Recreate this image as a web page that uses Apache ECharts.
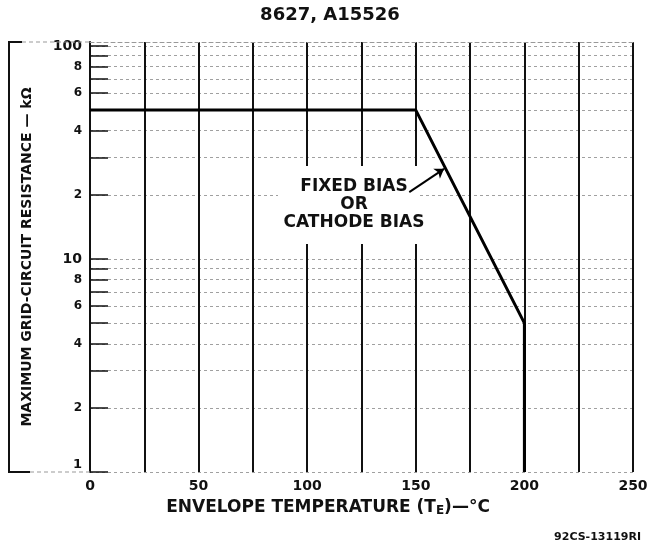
<!DOCTYPE html>
<html>
<head>
<meta charset="utf-8">
<script src="https://cdn.jsdelivr.net/npm/echarts@6/dist/echarts.min.js"></script>
<style>
html, body { margin: 0; background: #fff; }
#chart { width: 654px; height: 549px; }
</style>
</head>
<body>
<div id="chart"></div>
<script>
// rating curve: envelope temperature (degC) -> max grid-circuit resistance (kOhm)
const temps = [0, 150, 200, 200];
const resistance = [50, 50, 5, 1];

const xLabels = [0, 50, 100, 150, 200, 250];
const yTicks = [1, 2, 3, 4, 5, 6, 7, 8, 9, 10, 20, 30, 40, 50, 60, 70, 80, 90, 100];
const yLabels = [1, 2, 4, 6, 8, 10, 20, 40, 60, 80, 100];

// callout arrow ("FIXED BIAS OR CATHODE BIAS")
const arrowFrom = [147, 20.6];
const arrowTo = [163, 26.5];

const font = 'DejaVu Sans';
const ink = '#111';

const chart = echarts.init(document.getElementById('chart'));

chart.setOption({
  animation: false,
  backgroundColor: '#fff',
  grid: { left: 90, right: 21, top: 42, bottom: 77 },
  xAxis: [
    {
      type: 'value',
      min: 0,
      max: 250,
      interval: 25,
      axisLine: { show: false },
      axisTick: { show: false },
      axisLabel: {
        customValues: xLabels,
        margin: 7,
        color: ink,
        fontFamily: font,
        fontSize: 14,
        fontWeight: 'bold'
      },
      splitLine: { lineStyle: { color: ink, width: 2 } }
    },
    {
      // dashed top edge of the frame
      type: 'value',
      position: 'top',
      min: 0,
      max: 250,
      axisLine: { lineStyle: { color: '#999', type: [4, 3], width: 1 } },
      axisTick: { show: false },
      axisLabel: { show: false },
      splitLine: { show: false }
    }
  ],
  yAxis: {
    type: 'log',
    logBase: 10,
    min: 1,
    max: 104.4,
    name: 'MAXIMUM GRID-CIRCUIT RESISTANCE — kΩ',
    nameLocation: 'middle',
    nameGap: 56,
    nameRotate: 90,
    nameTextStyle: { color: ink, fontFamily: font, fontSize: 14, fontWeight: 'bold' },
    axisLine: { show: true, onZero: false, lineStyle: { color: ink, width: 2 } },
    axisTick: {
      customValues: yTicks,
      inside: true,
      length: 18,
      lineStyle: { color: ink, width: 1.5 }
    },
    axisLabel: {
      customValues: yLabels,
      margin: 8,
      color: ink,
      fontFamily: font,
      fontWeight: 'bold',
      formatter: function (v) {
        if (v === 1) return '{one|1}';
        if (v === 10 || v === 100) return '{big|' + v + '}';
        return '{sm|' + (v > 10 ? v / 10 : v) + '}';
      },
      rich: {
        one: { fontSize: 13, fontWeight: 'bold', fontFamily: font, color: ink, padding: [0, 0, 14, 0] },
        big: { fontSize: 14, fontWeight: 'bold', fontFamily: font, color: ink },
        sm: { fontSize: 12, fontWeight: 'bold', fontFamily: font, color: ink }
      }
    },
    splitLine: { show: true, lineStyle: { color: '#a0a0a0', type: [3, 3], width: 1 } }
  },
  series: [
    {
      type: 'line',
      data: temps.map((t, i) => [t, resistance[i]]),
      symbol: 'none',
      z: 5,
      lineStyle: { color: '#000', width: 3 },
      markLine: {
        silent: true,
        symbol: ['none', 'arrow'],
        symbolSize: 9,
        label: { show: false },
        lineStyle: { color: '#000', width: 2, type: 'solid' },
        data: [[{ coord: arrowFrom }, { coord: arrowTo }]]
      }
    }
  ],
  graphic: [
    // frame pieces left of the y axis
    {
      type: 'polyline',
      z: 1,
      shape: { points: [[22, 42], [9, 42], [9, 472], [30, 472]] },
      style: { stroke: ink, lineWidth: 2, fill: null }
    },
    {
      type: 'line',
      z: 1,
      shape: { x1: 22, y1: 42, x2: 90, y2: 42 },
      style: { stroke: '#999', lineWidth: 1, lineDash: [4, 3] }
    },
    {
      type: 'line',
      z: 1,
      shape: { x1: 30, y1: 472, x2: 90, y2: 472 },
      style: { stroke: '#999', lineWidth: 1, lineDash: [4, 3] }
    },
    // white box behind the callout text
    {
      type: 'rect',
      z: 1,
      shape: { x: 278, y: 166, width: 141, height: 78 },
      style: { fill: '#fff' }
    },
    {
      type: 'text',
      z: 3,
      x: 354,
      y: 178,
      style: {
        text: 'FIXED BIAS\nOR\nCATHODE BIAS',
        align: 'center',
        lineHeight: 18,
        fill: ink,
        font: 'bold 17px "DejaVu Sans"'
      }
    },
    {
      type: 'text',
      z: 3,
      x: 330,
      y: 6,
      style: {
        text: '8627, A15526',
        align: 'center',
        fill: ink,
        font: 'bold 18px "DejaVu Sans"'
      }
    },
    {
      type: 'text',
      z: 3,
      x: 328,
      y: 498,
      style: {
        text: 'ENVELOPE TEMPERATURE (T{sub|E})—°C',
        align: 'center',
        fill: ink,
        font: 'bold 17px "DejaVu Sans"',
        rich: {
          sub: { fontSize: 12, fontWeight: 'bold', fontFamily: font, fill: ink, padding: [7, 0, 0, 0] }
        }
      }
    },
    {
      type: 'text',
      z: 3,
      x: 641,
      y: 532,
      style: {
        text: '92CS-13119RI',
        align: 'right',
        fill: ink,
        font: 'bold 11px "DejaVu Sans"'
      }
    }
  ]
});
</script>
</body>
</html>
